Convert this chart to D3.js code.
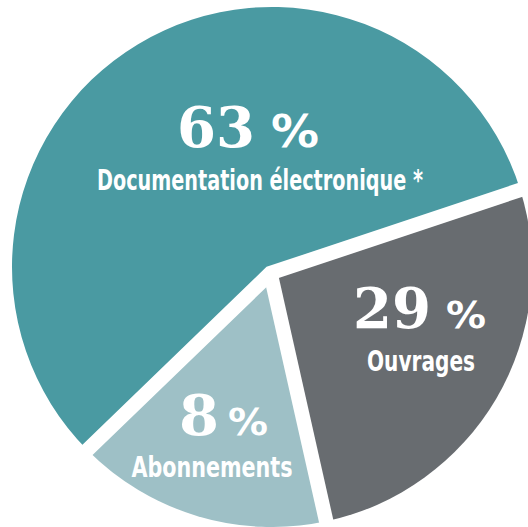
<!DOCTYPE html>
<html>
<head>
<meta charset="utf-8">
<script src="https://cdn.jsdelivr.net/npm/d3@7"></script>
<style>
  html, body { margin: 0; padding: 0; background: #fff; }
  svg { display: block; }
</style>
</head>
<body>
<div id="chart"></div>
<script>
// chart data
const categories = ["Documentation électronique *", "Ouvrages", "Abonnements"];
const percents = [63, 29, 8];
// slice sizes as they are drawn in the picture (the graphic is not to scale)
const drawnShares = [57.1, 26.6, 16.3];
const colors = ["#4a9aa2", "#686c70", "#9ec0c6"];

const width = 528, height = 527;
const circle = { x: 272, y: 267, r: 260 }; // outer rim
const hub = { x: 270.4, y: 273.2 };         // where the white gaps meet
const gap = 14.5;
const startDeg = -134;

// label placement: number left edge / width, % left edge / width / size, name centre
const labelLayout = [
  { nx: 177, nw: 78, px: 271, pw: 48, ps: 44, ny: 147, tx: 260, ty: 190, tw: 326 },
  { nx: 353, nw: 78, px: 446, pw: 40, ps: 38, ny: 328, tx: 421, ty: 371, tw: 108 },
  { nx: 179, nw: 40, px: 228, pw: 40, ps: 37, ny: 435, tx: 212, ty: 477, tw: 161 }
];

const svg = d3.select("#chart")
  .append("svg")
  .attr("width", width)
  .attr("height", height);

const pie = d3.pie()
  .sort(null)
  .value(d => d)
  .startAngle(startDeg * Math.PI / 180)
  .endAngle(startDeg * Math.PI / 180 + 2 * Math.PI);

const arcs = pie(drawnShares);

// point where a ray from the hub hits a circle of radius r round the rim centre
function rimPoint(a, r) {
  const ux = Math.sin(a), uy = -Math.cos(a);
  const ox = hub.x - circle.x, oy = hub.y - circle.y;
  const b = ux * ox + uy * oy;
  const c = ox * ox + oy * oy - r * r;
  const t = -b + Math.sqrt(b * b - c);
  return [hub.x + t * ux, hub.y + t * uy];
}

function slicePath(d) {
  const r = circle.r;
  const p0 = rimPoint(d.startAngle, r), p1 = rimPoint(d.endAngle, r);
  const a0 = Math.atan2(p0[1] - circle.y, p0[0] - circle.x);
  const a1 = Math.atan2(p1[1] - circle.y, p1[0] - circle.x);
  const p = d3.path();
  p.moveTo(hub.x, hub.y);
  p.lineTo(p0[0], p0[1]);
  p.arc(circle.x, circle.y, r, a0, a1, false);
  p.closePath();
  return p.toString();
}

svg.append("g")
  .selectAll("path")
  .data(arcs)
  .join("path")
  .attr("d", slicePath)
  .attr("fill", (d, i) => colors[i]);

// white gaps: the big slice's two edges as one mitred line, plus the edge between the small ones
const far = circle.r + 30;
const bigEdges = d3.path();
const pa = rimPoint(arcs[0].startAngle, far), pb = rimPoint(arcs[0].endAngle, far);
bigEdges.moveTo(pa[0], pa[1]);
bigEdges.lineTo(hub.x, hub.y);
bigEdges.lineTo(pb[0], pb[1]);
const midEdge = d3.path();
const pc = rimPoint(arcs[1].endAngle, far);
midEdge.moveTo(hub.x, hub.y);
midEdge.lineTo(pc[0], pc[1]);

svg.append("g")
  .attr("fill", "none")
  .attr("stroke", "#fff")
  .attr("stroke-width", gap)
  .attr("stroke-linejoin", "miter")
  .selectAll("path")
  .data([bigEdges.toString(), midEdge.toString()])
  .join("path")
  .attr("d", d => d);

const labels = svg.append("g").attr("fill", "#fff");

// big percentage numbers
labels.selectAll("text.num")
  .data(percents)
  .join("text")
  .attr("class", "num")
  .attr("x", (d, i) => labelLayout[i].nx)
  .attr("y", (d, i) => labelLayout[i].ny)
  .attr("font-family", "'DejaVu Serif', serif")
  .attr("font-weight", "bold")
  .attr("font-size", 56)
  .attr("textLength", (d, i) => labelLayout[i].nw)
  .attr("lengthAdjust", "spacingAndGlyphs")
  .text(d => d);

labels.selectAll("text.pct")
  .data(percents)
  .join("text")
  .attr("class", "pct")
  .attr("x", (d, i) => labelLayout[i].px)
  .attr("y", (d, i) => labelLayout[i].ny)
  .attr("font-family", "'DejaVu Sans', sans-serif")
  .attr("font-weight", "bold")
  .attr("font-size", (d, i) => labelLayout[i].ps)
  .attr("textLength", (d, i) => labelLayout[i].pw)
  .attr("lengthAdjust", "spacingAndGlyphs")
  .text("%");

// category names
labels.selectAll("text.cat")
  .data(categories)
  .join("text")
  .attr("class", "cat")
  .attr("x", (d, i) => labelLayout[i].tx)
  .attr("y", (d, i) => labelLayout[i].ty)
  .attr("text-anchor", "middle")
  .attr("font-family", "'Liberation Sans Narrow', 'DejaVu Sans Condensed', sans-serif")
  .attr("font-stretch", "condensed")
  .attr("font-weight", "bold")
  .attr("font-size", 28)
  .attr("textLength", (d, i) => labelLayout[i].tw)
  .attr("lengthAdjust", "spacingAndGlyphs")
  .text(d => d);
</script>
</body>
</html>
